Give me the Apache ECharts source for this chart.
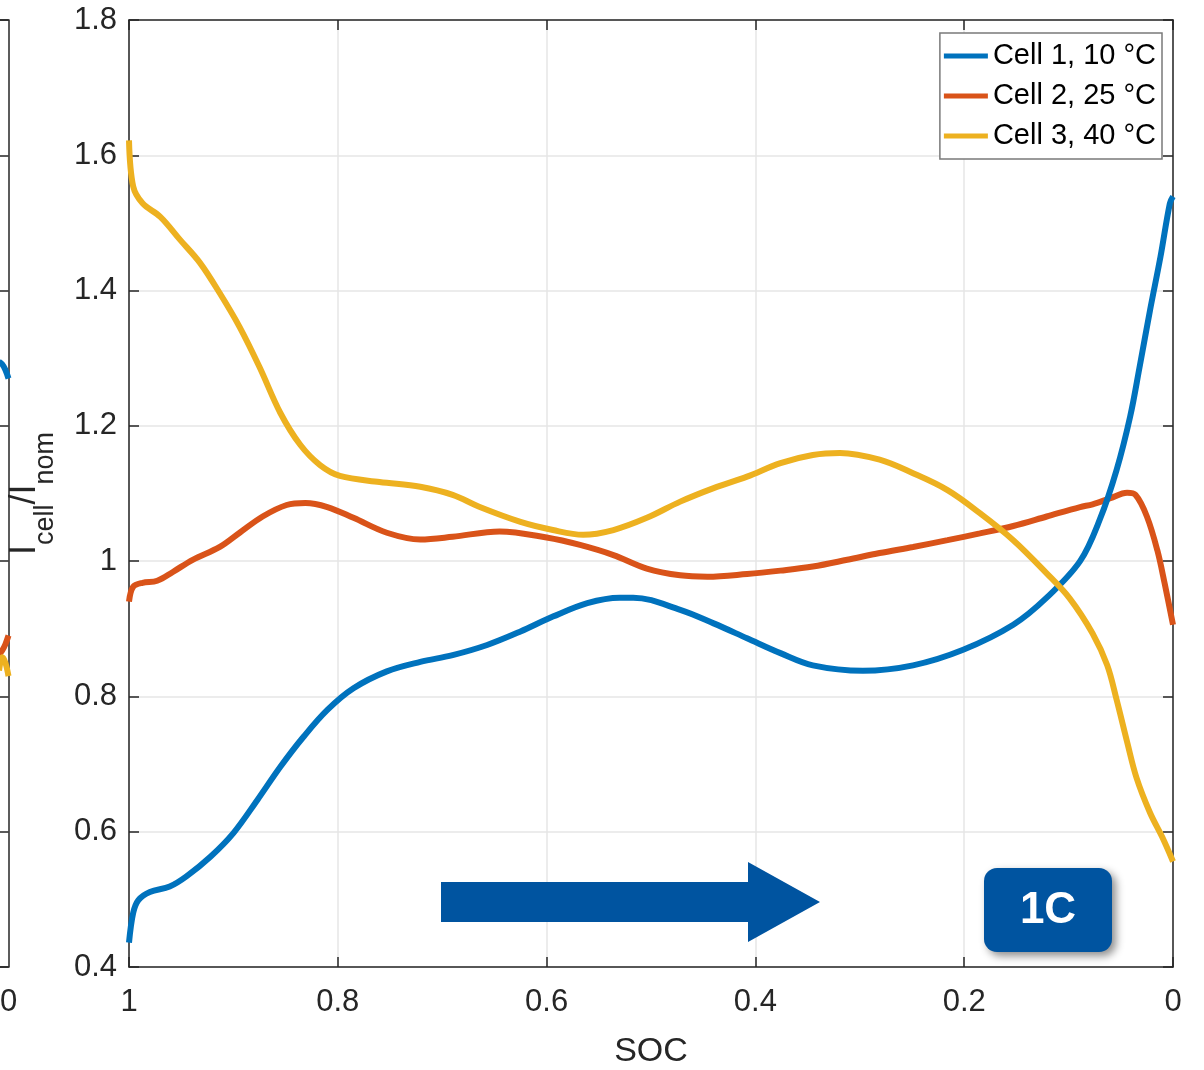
<!DOCTYPE html>
<html>
<head>
<meta charset="utf-8">
<script src="https://cdn.jsdelivr.net/npm/echarts@6/dist/echarts.min.js"></script>
<style>
  html, body { margin: 0; padding: 0; background: #fff; }
  #chart { width: 1204px; height: 1070px; }
</style>
</head>
<body>
<div id="chart"></div>
<script>
// 图例名称
const names = ['Cell 1, 10 °C', 'Cell 2, 25 °C', 'Cell 3, 40 °C'];

// Cell 1 (蓝)
const soc1 = [1, 0.996, 0.991, 0.980, 0.961, 0.945, 0.922, 0.900, 0.877, 0.855, 0.833, 0.810, 0.785, 0.753, 0.721, 0.690, 0.657, 0.625, 0.594, 0.561, 0.530, 0.517, 0.472, 0.440, 0.408, 0.376, 0.345, 0.297, 0.249, 0.201, 0.153, 0.121, 0.089, 0.070, 0.054, 0.041, 0.032, 0.022, 0.012, 0.003, 0];
const val1 = [0.436, 0.480, 0.499, 0.511, 0.519, 0.534, 0.563, 0.598, 0.647, 0.696, 0.740, 0.780, 0.812, 0.837, 0.851, 0.861, 0.876, 0.896, 0.918, 0.938, 0.946, 0.946, 0.928, 0.908, 0.886, 0.864, 0.846, 0.838, 0.846, 0.869, 0.906, 0.946, 1.000, 1.062, 1.135, 1.214, 1.287, 1.371, 1.450, 1.529, 1.539];

// Cell 2 (橙)
const soc2 = [1, 0.996, 0.987, 0.973, 0.958, 0.939, 0.913, 0.894, 0.872, 0.849, 0.831, 0.810, 0.785, 0.753, 0.721, 0.690, 0.645, 0.600, 0.568, 0.536, 0.504, 0.472, 0.446, 0.408, 0.376, 0.345, 0.312, 0.281, 0.249, 0.216, 0.185, 0.153, 0.121, 0.089, 0.077, 0.060, 0.044, 0.036, 0.025, 0.015, 0.008, 0];
const val2 = [0.940, 0.962, 0.968, 0.971, 0.984, 1.002, 1.021, 1.042, 1.066, 1.083, 1.086, 1.080, 1.064, 1.042, 1.032, 1.036, 1.044, 1.035, 1.024, 1.009, 0.989, 0.979, 0.977, 0.981, 0.986, 0.992, 1.002, 1.012, 1.021, 1.031, 1.041, 1.052, 1.066, 1.080, 1.084, 1.093, 1.101, 1.098, 1.066, 1.016, 0.967, 0.906];

// Cell 3 (黄)
const soc3 = [1, 0.996, 0.987, 0.970, 0.951, 0.932, 0.913, 0.894, 0.875, 0.855, 0.836, 0.817, 0.798, 0.760, 0.721, 0.690, 0.664, 0.625, 0.594, 0.565, 0.536, 0.504, 0.472, 0.440, 0.408, 0.376, 0.345, 0.319, 0.281, 0.249, 0.216, 0.185, 0.153, 0.121, 0.099, 0.077, 0.063, 0.054, 0.044, 0.035, 0.022, 0.010, 0];
const val3 = [1.622, 1.554, 1.529, 1.509, 1.475, 1.441, 1.396, 1.346, 1.287, 1.219, 1.172, 1.142, 1.126, 1.117, 1.110, 1.098, 1.080, 1.058, 1.046, 1.039, 1.046, 1.064, 1.088, 1.108, 1.125, 1.145, 1.157, 1.160, 1.150, 1.130, 1.105, 1.071, 1.031, 0.982, 0.945, 0.893, 0.846, 0.795, 0.733, 0.680, 0.628, 0.591, 0.556];

// 左侧被截断的上一幅图的末端
const socL = [0.009, 0.006, 0.003, 0];
const valL1 = [1.295, 1.291, 1.283, 1.270];
const valL2 = [0.862, 0.868, 0.877, 0.890];
const valL3 = [0.838, 0.858, 0.850, 0.830];

const colors = ['#0072BD', '#D95319', '#EDB120'];
const font = 'Liberation Sans, Arial, sans-serif';
const axisColor = '#262626';

const pairs = (xs, ys) => xs.map((x, i) => [x, ys[i]]);

const chart = echarts.init(document.getElementById('chart'));

function lineSeries(name, data, color, xi, yi, z) {
  return {
    name, type: 'line', data, xAxisIndex: xi, yAxisIndex: yi,
    smooth: 0.35, showSymbol: false, z,
    lineStyle: { color, width: 6 }, itemStyle: { color },
    emphasis: { disabled: true }
  };
}

const tickIn = { inside: true, length: 10, lineStyle: { color: axisColor, width: 1.5 } };
const axLine = { onZero: false, lineStyle: { color: axisColor, width: 1.5 } };
const labelStyle = { fontSize: 31, color: axisColor, fontFamily: font };

const option = {
  animation: false,
  backgroundColor: '#fff',
  grid: [
    { left: 129, right: 31, top: 20, bottom: 103, outerBoundsMode: 'none', containLabel: false },
    { left: 0, width: 8.5, top: 20, bottom: 103, outerBoundsMode: 'none', containLabel: false }
  ],
  legend: {
    data: names, orient: 'vertical', right: 42, top: 33,
    icon: 'rect', itemWidth: 44, itemHeight: 5, itemGap: 10,
    padding: [8, 6, 8, 4],
    borderColor: '#7a7a7a', borderWidth: 1.5, backgroundColor: '#fff',
    textStyle: { fontSize: 29, color: '#000', fontFamily: font, lineHeight: 30 }
  },
  xAxis: [
    {
      type: 'value', gridIndex: 0, min: 0, max: 1, interval: 0.2, inverse: true,
      name: 'SOC', nameLocation: 'middle', nameGap: 68,
      nameTextStyle: { fontSize: 34, color: axisColor, fontFamily: font },
      axisLine: axLine, axisTick: tickIn,
      axisLabel: Object.assign({ margin: 20 }, labelStyle),
      splitLine: { show: true, lineStyle: { color: '#e6e6e6', width: 1.5 } }
    },
    {
      type: 'value', gridIndex: 0, min: 0, max: 1, interval: 0.2, inverse: true, position: 'top',
      axisLine: axLine, axisTick: tickIn, axisLabel: { show: false }, splitLine: { show: false }
    },
    {
      type: 'value', gridIndex: 1, min: 0, max: 0.0081, interval: 0.0081, inverse: true,
      axisLine: axLine, axisTick: { show: false },
      axisLabel: Object.assign({ margin: 20, formatter: v => (v === 0 ? '0' : '') }, labelStyle),
      splitLine: { show: false }
    },
    {
      type: 'value', gridIndex: 1, min: 0, max: 0.0081, interval: 0.0081, inverse: true, position: 'top',
      axisLine: axLine, axisTick: { show: false }, axisLabel: { show: false }, splitLine: { show: false }
    }
  ],
  yAxis: [
    {
      type: 'value', gridIndex: 0, min: 0.4, max: 1.8, interval: 0.2,
      name: '{m|I}{s|cell}{m|/I}{s|nom}', nameLocation: 'middle', nameGap: 70, nameRotate: 90,
      nameTextStyle: {
        color: axisColor, fontFamily: font,
        rich: {
          m: { fontSize: 36, fontFamily: font, color: axisColor, verticalAlign: 'top', lineHeight: 38 },
          s: { fontSize: 27, fontFamily: font, color: axisColor, verticalAlign: 'bottom', lineHeight: 52 }
        }
      },
      axisLine: axLine, axisTick: tickIn,
      axisLabel: Object.assign({ margin: 12 }, labelStyle),
      splitLine: { show: true, lineStyle: { color: '#e6e6e6', width: 1.5 } }
    },
    {
      type: 'value', gridIndex: 0, min: 0.4, max: 1.8, interval: 0.2, position: 'right',
      axisLine: axLine, axisTick: tickIn, axisLabel: { show: false }, splitLine: { show: false }
    },
    {
      type: 'value', gridIndex: 1, min: 0.4, max: 1.8, interval: 0.2, position: 'right',
      axisLine: axLine, axisTick: tickIn, axisLabel: { show: false }, splitLine: { show: false }
    }
  ],
  series: [
    lineSeries(names[0], pairs(soc1, val1), colors[0], 0, 0, 3),
    lineSeries(names[1], pairs(soc2, val2), colors[1], 0, 0, 2),
    lineSeries(names[2], pairs(soc3, val3), colors[2], 0, 0, 4),
    lineSeries('prev1', pairs(socL, valL1), colors[0], 2, 2, 3),
    lineSeries('prev2', pairs(socL, valL2), colors[1], 2, 2, 2),
    lineSeries('prev3', pairs(socL, valL3), colors[2], 2, 2, 4)
  ],
  graphic: [
    {
      // 方向箭头
      type: 'polygon', z: 10,
      shape: { points: [[441, 882], [748, 882], [748, 862], [820, 902], [748, 942], [748, 922], [441, 922]] },
      style: { fill: '#0054A0' }
    },
    {
      type: 'group', left: 984, top: 868, z: 10,
      children: [
        {
          type: 'rect',
          shape: { x: 0, y: 0, width: 128, height: 84, r: 13 },
          style: { fill: '#0054A0', shadowBlur: 8, shadowOffsetX: 4, shadowOffsetY: 4, shadowColor: 'rgba(0,0,0,0.45)' }
        },
        {
          type: 'text', x: 64, y: 43,
          style: { text: '1C', fill: '#fff', font: 'bold 44px ' + font, align: 'center', verticalAlign: 'middle' }
        }
      ]
    }
  ]
};

chart.setOption(option);
</script>
</body>
</html>
